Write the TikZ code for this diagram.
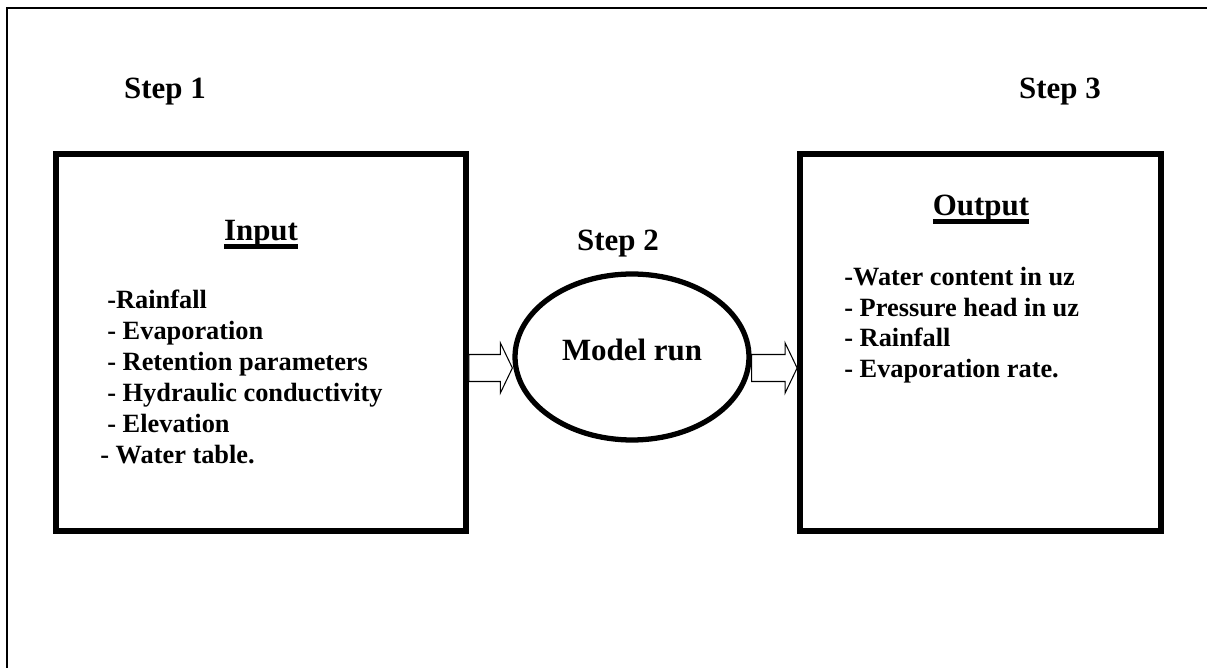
\documentclass[tikz,border=0pt]{standalone}
\usepackage{fontspec}
\setmainfont{Liberation Serif}
\usetikzlibrary{shapes.geometric,calc}

% heading with a heavy underline
\newsavebox{\headbox}
\newcommand{\ulhead}[1]{\sbox\headbox{#1}\rlap{\usebox\headbox}\rule[-4.5pt]{\wd\headbox}{2.6pt}}

\tikzset{
  stepbox/.style={draw, line width=3.3pt, minimum height=7.54cm},
  steplabel/.style={font=\fontsize{17.6}{21}\selectfont\bfseries, anchor=base, inner sep=0pt},
  listtext/.style={font=\fontsize{15}{17.6}\selectfont\bfseries, align=left, anchor=north west, inner sep=0pt},
  hollow/.style={draw, line width=0.6pt, fill=white, to path={
    ($(\tikztostart)+(0,-13.5)$) -- ($(\tikztotarget)+(-12,-13.5)$) -- ($(\tikztotarget)+(-12,-25)$)
    -- (\tikztotarget) -- ($(\tikztotarget)+(-12,25)$) -- ($(\tikztotarget)+(-12,13.5)$)
    -- ($(\tikztostart)+(0,13.5)$) -- cycle}}
}

\begin{document}
\begin{tikzpicture}[x=0.02cm, y=-0.02cm]
  \useasboundingbox (0,0) rectangle (1207,668);
  % page frame
  \draw[line width=0.9pt] (7,690) -- (7,8) -- (1230,8);

  \node[steplabel] (step1) at (165,99) {Step 1};
  \node[steplabel] (step2) at (618,251) {Step 2};
  \node[steplabel] (step3) at (1060,99) {Step 3};

  \node[stepbox, minimum width=8.2cm] (input) at (261,342.5) {};
  \node[stepbox, minimum width=7.22cm] (output) at (980.5,342.5) {};
  \node[ellipse, draw, line width=3pt, inner sep=0pt, minimum width=4.68cm, minimum height=3.32cm,
        text height=11.9pt, text depth=7.4pt,
        font=\fontsize{17.6}{21}\selectfont\bfseries] (model) at (632,357) {Model run};

  \node[steplabel] (inhead) at (261,241) {\ulhead{Input}};
  \node[steplabel] (outhead) at (981,216) {\ulhead{Output}};

  \node[listtext] (inlist) at (100,290) {\hspace*{4pt}-Rainfall\\
    \hspace*{4pt}- Evaporation\\
    \hspace*{4pt}- Retention parameters\\
    \hspace*{4pt}- Hydraulic conductivity\\
    \hspace*{4pt}- Elevation\\
    - Water table.};
  \node[listtext] (outlist) at (844,266.5) {-Water content in uz\\
    - Pressure head in uz\\
    - Rainfall\\
    - Evaporation rate.};

  % hollow flow arrows
  \coordinate (flow) at (0,368);
  \draw[hollow] (input.east |- flow) to (model.west |- flow);
  \draw[hollow] (model.east |- flow) to (output.west |- flow);
\end{tikzpicture}
\end{document}
